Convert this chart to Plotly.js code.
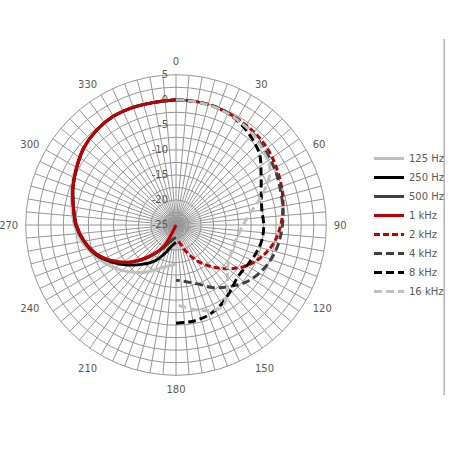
<!DOCTYPE html>
<html>
<head>
<meta charset="utf-8">
<script src="https://cdn.plot.ly/plotly-3.0.1.min.js"></script>
<style>html,body{margin:0;padding:0;background:#fff;}#chart{width:450px;height:450px;}</style>
</head>
<body>
<div id="chart"></div>
<script>
// Angles (degrees, clockwise from top)
const thetaLeft  = [360,350,340,330,320,310,300,290,280,270,260,250,240,230,220,210,200,190,180];
const thetaRight = [0,10,20,30,40,50,60,70,80,90,100,110,120,130,140,150,160,170,180];

// Levels in dB
const hz125  = [0,-0.15,0,0,-0.3,-0.9,-1.9,-2.9,-3.9,-4.7,-5.9,-7.5,-9.2,-10.9,-12.6,-14.3,-15.8,-16.7,-17.2];
const hz250  = [0,-0.15,0,0.05,-0.3,-1.0,-2.1,-3.1,-4.2,-5.0,-6.3,-7.9,-10.2,-12.6,-14.8,-16.8,-19.2,-20.9,-21.5];
const hz500  = [0,-0.15,0,0.05,-0.3,-1.0,-2.1,-3.1,-4.2,-5.1,-6.4,-8.1,-10.6,-13.5,-16.7,-19.5,-21.4,-22.2,-22.5];
const khz1   = [0,-0.15,0,0.05,-0.3,-1.0,-2.1,-3.1,-4.2,-5.1,-6.4,-8.1,-10.6,-13.6,-17.0,-20.1,-25,null,null];
const khz2   = [0,-0.05,-0.2,-0.5,-0.8,-1.2,-1.9,-2.6,-3.3,-4.1,-5.1,-6.7,-8.7,-11.4,-14.2,-16.8,-19.5,-21.5,-22];
const khz4   = [0,-0.05,-0.25,-0.6,-1.1,-1.8,-2.3,-2.95,-3.35,-3.75,-4.2,-4.85,-5.8,-7.1,-8.9,-10.6,-12.5,-13.5,-14.0];
const khz8   = [0,-0.1,-0.2,-0.8,-1.85,-3.2,-5.4,-6.9,-7.6,-7.5,-7.6,-8.1,-8.7,-8.9,-8.0,-6.8,-5.9,-5.5,-5.4];
const khz16  = [0,-0.1,-0.3,-0.7,-1.2,-2.2,-3.3,-6.5,-9.8,-11.6,-12.5,-12.8,-12.5,-11.6,-9.0,-6.3,-6.8,-8.0,-9.2];

const seriesNames = ['125 Hz','250 Hz','500 Hz','1 kHz','2 kHz','4 kHz','8 kHz','16 kHz'];

// Axis ticks
const angleTicks = [];
const angleText = [];
for (let a = 0; a < 360; a += 5) { angleTicks.push(a); angleText.push(a % 30 === 0 ? String(a) : ''); }
const radialTicks = [];
const radialText = [];
for (let v = -25; v <= 5.001; v += 2.5) { radialTicks.push(v); radialText.push(Math.abs(v % 5) < 1e-6 ? String(v) : ''); }

const styles = [
  {color:'#BFBFBF', dash:'solid'},
  {color:'#000000', dash:'solid'},
  {color:'#404040', dash:'solid'},
  {color:'#C00000', dash:'solid'},
  {color:'#C00000', dash:'6px,3px'},
  {color:'#404040', dash:'8px,4px'},
  {color:'#000000', dash:'8px,4px'},
  {color:'#BFBFBF', dash:'8px,4px'}
];
const values = [hz125, hz250, hz500, khz1, khz2, khz4, khz8, khz16];
const thetas = [thetaLeft, thetaLeft, thetaLeft, thetaLeft, thetaRight, thetaRight, thetaRight, thetaRight];

const traces = values.map((r, i) => ({
  type: 'scatterpolar',
  mode: 'lines',
  name: seriesNames[i],
  r: r,
  theta: thetas[i],
  connectgaps: false,
  line: {color: styles[i].color, width: 3, dash: styles[i].dash, shape: 'spline', smoothing: 1}
}));

const gridColor = '#969696';
const layout = {
  width: 450, height: 450,
  margin: {l:0, r:0, t:0, b:0},
  paper_bgcolor: '#ffffff',
  font: {family: 'DejaVu Sans, sans-serif', size: 10, color: '#595959'},
  showlegend: true,
  legend: {x: 0.83, xanchor: 'left', y: 0.5, yanchor: 'middle', font: {size: 10, color: '#595959'}, bgcolor: 'rgba(0,0,0,0)'},
  polar: {
    domain: {x: [0.0578, 0.7333], y: [0.1622, 0.8378]},
    bgcolor: '#ffffff',
    angularaxis: {
      rotation: 90, direction: 'clockwise', thetaunit: 'degrees',
      tickmode: 'array', tickvals: angleTicks, ticktext: angleText,
      showgrid: true, gridcolor: gridColor, gridwidth: 1,
      showline: true, linecolor: gridColor, linewidth: 1,
      ticks: 'outside', ticklen: 5, tickcolor: 'rgba(0,0,0,0)',
      tickfont: {size: 10, color: '#595959'}
    },
    radialaxis: {
      range: [-25, 5], angle: 90, tickangle: 90, side: 'counterclockwise',
      tickmode: 'array', tickvals: radialTicks, ticktext: radialText,
      showgrid: true, gridcolor: gridColor, gridwidth: 1,
      showline: false, ticks: 'outside', ticklen: 4, tickcolor: 'rgba(0,0,0,0)',
      tickfont: {size: 10, color: '#595959'}
    }
  },
  shapes: [
    {type: 'line', xref: 'paper', yref: 'paper', x0: 0.998, x1: 0.998, y0: 0.122, y1: 0.913, line: {color: '#888888', width: 1}}
  ]
};

Plotly.newPlot('chart', traces, layout, {staticPlot: true});
</script>
</body>
</html>
